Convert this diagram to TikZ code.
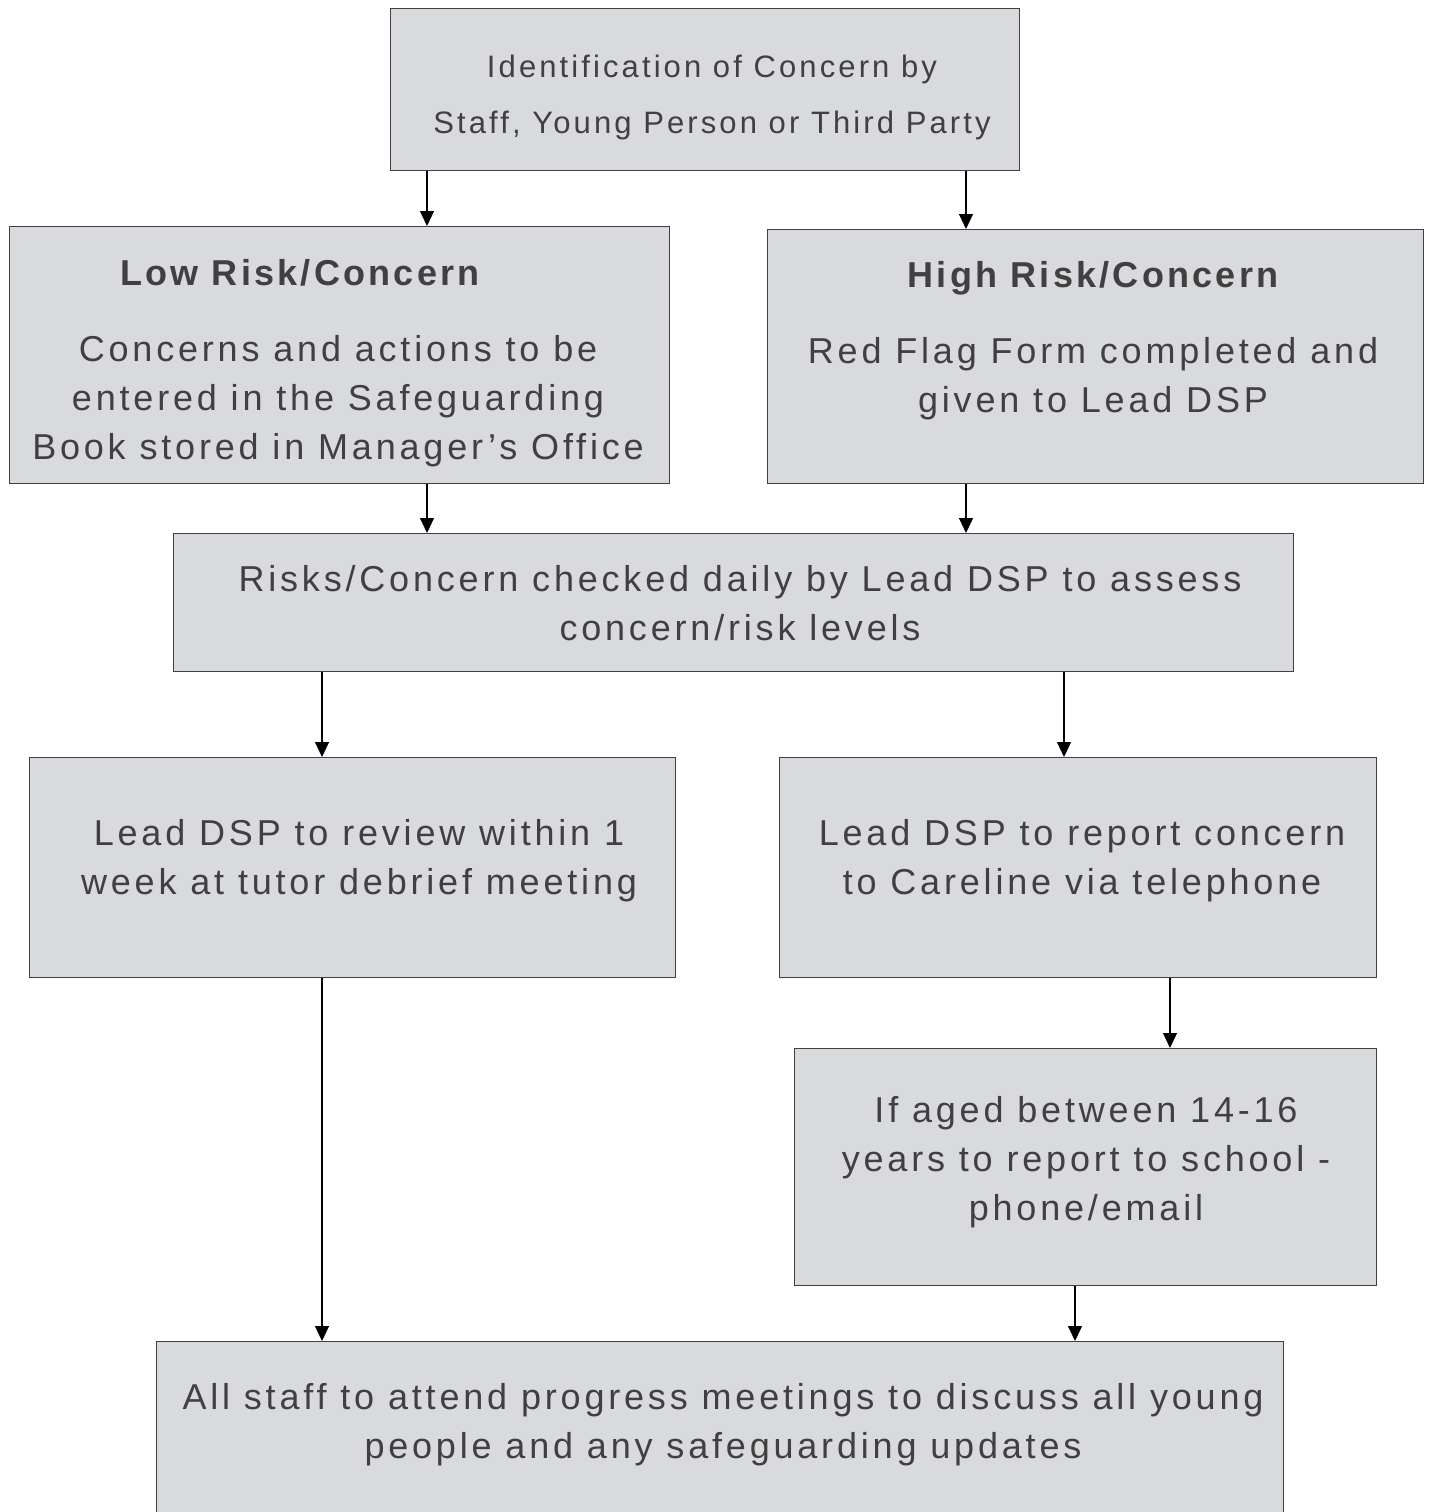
\documentclass[tikz,border=0pt]{standalone}
\usepackage{fontspec}
\setmainfont{Liberation Sans}[LetterSpace=9]
\usetikzlibrary{arrows.meta}
\definecolor{boxgrey}{HTML}{D9DADE}
\definecolor{inkgrey}{HTML}{404040}
\tikzset{
  box/.style={draw=inkgrey, fill=boxgrey, line width=1.2pt, anchor=north west, inner sep=0pt},
  txt/.style={text=inkgrey, align=center, anchor=base, inner sep=0pt, font=\fontsize{36}{49}\selectfont\addfontfeatures{LetterSpace=10.6}},
  smalltxt/.style={txt, font=\fontsize{31}{56}\selectfont\addfontfeatures{LetterSpace=10}},
  ttl/.style={txt, font=\fontsize{36}{44}\selectfont\bfseries},
  arr/.style={-{Triangle[length=15pt,width=14pt]}, line width=1.2pt}
}
\begin{document}
\begin{tikzpicture}[x=1pt,y=-1pt]
 \useasboundingbox (0,0) rectangle (1429,1512);
 % boxes
 \node[box, minimum width=629, minimum height=162] (ident) at (390,8) {};
 \node[box, minimum width=660, minimum height=257] (low) at (9,226) {};
 \node[box, minimum width=656, minimum height=254] (high) at (767,229) {};
 \node[box, minimum width=1120, minimum height=138] (risks) at (173,533) {};
 \node[box, minimum width=646, minimum height=220] (review) at (29,757) {};
 \node[box, minimum width=597, minimum height=220] (report) at (779,757) {};
 \node[box, minimum width=582, minimum height=237] (aged) at (794,1048) {};
 \node[box, minimum width=1127, minimum height=200] (allstaff) at (156,1341) {};
 % texts (base = last line)
 \node[smalltxt] (identtxt) at (712,133) {Identification of Concern by\\Staff, Young Person or Third Party};
 \node[ttl] (lowttl) at (300,285) {Low Risk/Concern};
 \node[txt] (lowtxt) at (338,459) {Concerns and actions to be\\entered in the Safeguarding\\Book stored in Manager’s Office};
 \node[ttl] (highttl) at (1093,287) {High Risk/Concern};
 \node[txt] (hightxt) at (1093,412) {Red Flag Form completed and\\given to Lead DSP};
 \node[txt] (riskstxt) at (740,640) {Risks/Concern checked daily by Lead DSP to assess\\concern/risk levels};
 \node[txt] (reviewtxt) at (359,894) {Lead DSP to review within 1\\week at tutor debrief meeting};
 \node[txt] (reporttxt) at (1082,894) {Lead DSP to report concern\\to Careline via telephone};
 \node[txt] (agedtxt) at (1086,1220) {If aged between 14-16\\years to report to school -\\phone/email};
 \node[txt] (alltxt) at (723,1458) {All staff to attend progress meetings to discuss all young\\people and any safeguarding updates};
 % arrow columns
 \coordinate (colA) at (427,0);
 \coordinate (colB) at (966,0);
 \coordinate (colC) at (322,0);
 \coordinate (colD) at (1064,0);
 \coordinate (colE) at (1170,0);
 \coordinate (colF) at (1075,0);
 % arrows
 \draw[arr] (ident.south -| colA) -- (low.north -| colA);
 \draw[arr] (ident.south -| colB) -- (high.north -| colB);
 \draw[arr] (low.south -| colA) -- (risks.north -| colA);
 \draw[arr] (high.south -| colB) -- (risks.north -| colB);
 \draw[arr] (risks.south -| colC) -- (review.north -| colC);
 \draw[arr] (risks.south -| colD) -- (report.north -| colD);
 \draw[arr] (review.south -| colC) -- (allstaff.north -| colC);
 \draw[arr] (report.south -| colE) -- (aged.north -| colE);
 \draw[arr] (aged.south -| colF) -- (allstaff.north -| colF);
\end{tikzpicture}
\end{document}
